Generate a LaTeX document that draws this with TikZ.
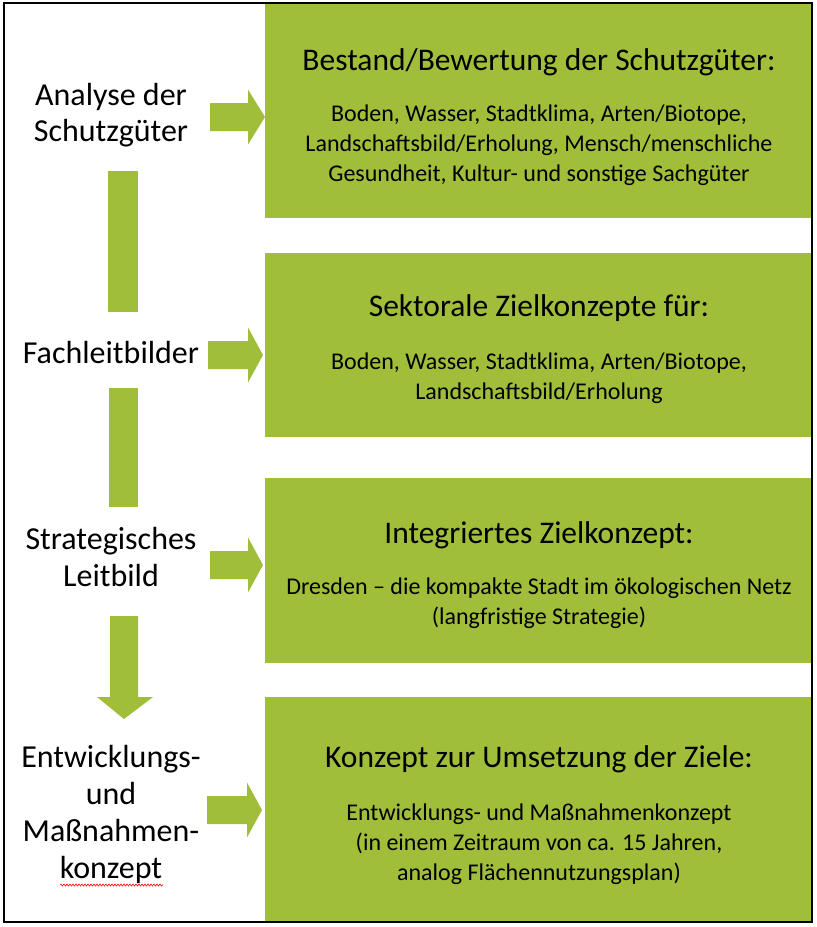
\documentclass[tikz,border=0pt]{standalone}
\usepackage{fontspec}
\setmainfont{Carlito}
\usetikzlibrary{decorations.pathmorphing}
\definecolor{lgreen}{RGB}{160,190,58}
\tikzset{
  greenbox/.style={fill=lgreen, draw=none},
  blockarrow/.style={fill=lgreen, draw=none},
  lefttext/.style={align=center, font=\fontsize{32}{36}\selectfont, inner sep=0pt},
  titletext/.style={align=center, font=\fontsize{31.5}{36}\selectfont, inner sep=0pt},
  bodytext/.style={align=center, font=\fontsize{24}{30}\selectfont, inner sep=0pt}
}
\begin{document}
\begin{tikzpicture}[x=1pt,y=-1pt]
\useasboundingbox (0,0) rectangle (817,927);
\fill[white] (0,0) rectangle (817,927);
% green boxes
\fill[greenbox] (265,3) rectangle (812,218);
\fill[greenbox] (265,253) rectangle (812,437);
\fill[greenbox] (265,478) rectangle (812,663);
\fill[greenbox] (265,697) rectangle (812,922);
% frame
\draw[line width=1.2pt] (4,3) rectangle (812,922);
% box texts
\node[titletext] (t1) at (539,62) {Bestand/Bewertung der Schutzgüter:};
\node[bodytext] (b1) at (539,145) {Boden, Wasser, Stadtklima, Arten/Biotope,\\Landschaftsbild/Erholung, Mensch/menschliche\\Gesundheit, Kultur- und sonstige Sachgüter};
\node[titletext] (t2) at (539,308) {Sektorale Zielkonzepte für:};
\node[bodytext] (b2) at (539,378) {Boden, Wasser, Stadtklima, Arten/Biotope,\\Landschaftsbild/Erholung};
\node[titletext] (t3) at (539,535) {Integriertes Zielkonzept:};
\node[bodytext] (b3) at (539,603) {Dresden – die kompakte Stadt im ökologischen Netz\\(langfristige Strategie)};
\node[titletext] (t4) at (539,759) {Konzept zur Umsetzung der Ziele:};
\node[bodytext] (b4) at (539,844) {Entwicklungs- und Maßnahmenkonzept\\(in einem Zeitraum von ca. 15 Jahren,\\analog Flächennutzungsplan)};
% left texts
\node[lefttext] (l1) at (111,115) {Analyse der\\Schutzgüter};
\node[lefttext] (l2) at (111,353) {Fachleitbilder};
\node[lefttext] (l3) at (111,557) {Strategisches\\Leitbild};
\node[lefttext, font=\fontsize{32}{37}\selectfont] (l4) at (111,814) {Entwicklungs-\\und\\Maßnahmen-\\konzept};
% right arrows
\foreach \xs/\xb/\xt/\yc in {210/248/265/117, 208/248/263/355, 210/248/263/565, 207/247/262/810}{
  \fill[blockarrow] (\xs,\yc-14) -- (\xb,\yc-14) -- (\xb,\yc-27.5) -- (\xt,\yc) -- (\xb,\yc+27.5) -- (\xb,\yc+14) -- (\xs,\yc+14) -- cycle;
}
% vertical bars
\fill[blockarrow] (108,171) rectangle (138,312);
\fill[blockarrow] (109,388) rectangle (138,507);
\fill[blockarrow] (110,616) -- (138,616) -- (138,697) -- (153,697) -- (124,719) -- (97,697) -- (110,697) -- cycle;
% spell-check squiggle
\draw[red, line width=0.6pt, decorate, decoration={snake, amplitude=1pt, segment length=3pt}] (60,885) -- (163,885);
\end{tikzpicture}
\end{document}
